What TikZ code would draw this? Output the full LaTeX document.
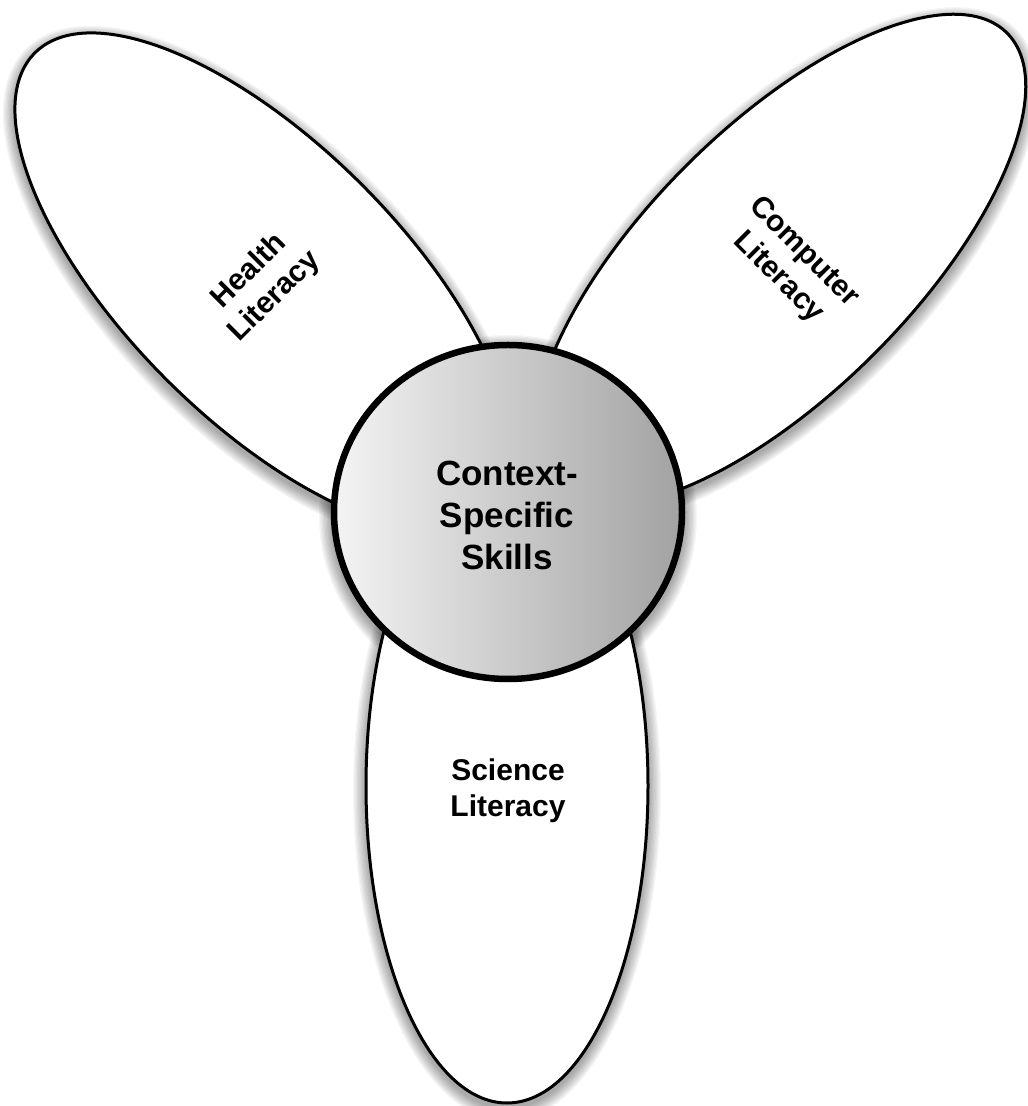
\documentclass[tikz,border=0pt]{standalone}
\usepackage{fontspec}
\setmainfont{Liberation Sans}
\usetikzlibrary{shapes.geometric}
\definecolor{hubleft}{HTML}{F4F4F4}
\definecolor{hubright}{HTML}{A2A2A2}
\newcommand\softshadow[5]{%
  \foreach \k in {1,...,10}{%
    \begin{scope}[shift={(#1,#2-5)}, rotate=#5]
      \fill[black, opacity=0.04] (0,0) ellipse [x radius={#3pt+\k*1.3pt}, y radius={#4pt+\k*1.3pt}];
    \end{scope}
  }%
}
\tikzset{
  petal/.style={ellipse, draw=black, line width=3pt, fill=white, inner sep=0pt},
  hub/.style={ellipse, draw=black, line width=6.5pt, inner sep=0pt, left color=hubleft, right color=hubright},
  petaltext/.style={font=\bfseries\fontsize{30}{36}\selectfont, align=center, inner sep=0pt},
  hubtext/.style={font=\bfseries\fontsize{35}{42}\selectfont, align=center, inner sep=0pt}
}
\begin{document}
\begin{tikzpicture}[x=1pt,y=1pt]
\useasboundingbox (0,0) rectangle (1028,1106);
\softshadow{264}{824}{324}{138}{-45}
\softshadow{780}{846}{321}{133}{45}
\softshadow{507}{320}{141}{317}{0}
\softshadow{508}{594}{176}{169}{0}
\node[petal, minimum width=648pt, minimum height=276pt, rotate=-45] (health) at (264,824) {};
\node[petal, minimum width=642pt, minimum height=266pt, rotate=45] (computer) at (780,846) {};
\node[petal, minimum width=282pt, minimum height=634pt] (science) at (507,320) {};
\node[hub, minimum width=348pt, minimum height=334pt] (hub) at (508,594) {};
\node[hubtext] (hublabel) at (507,591) {Context-\\Specific\\Skills};
\node[petaltext, rotate=45] (healthlabel) at (262,822) {Health\\Literacy};
\node[petaltext, rotate=-45] (computerlabel) at (791,841) {Computer\\Literacy};
\node[petaltext] (sciencelabel) at (508,315) {Science\\Literacy};
\end{tikzpicture}
\end{document}
